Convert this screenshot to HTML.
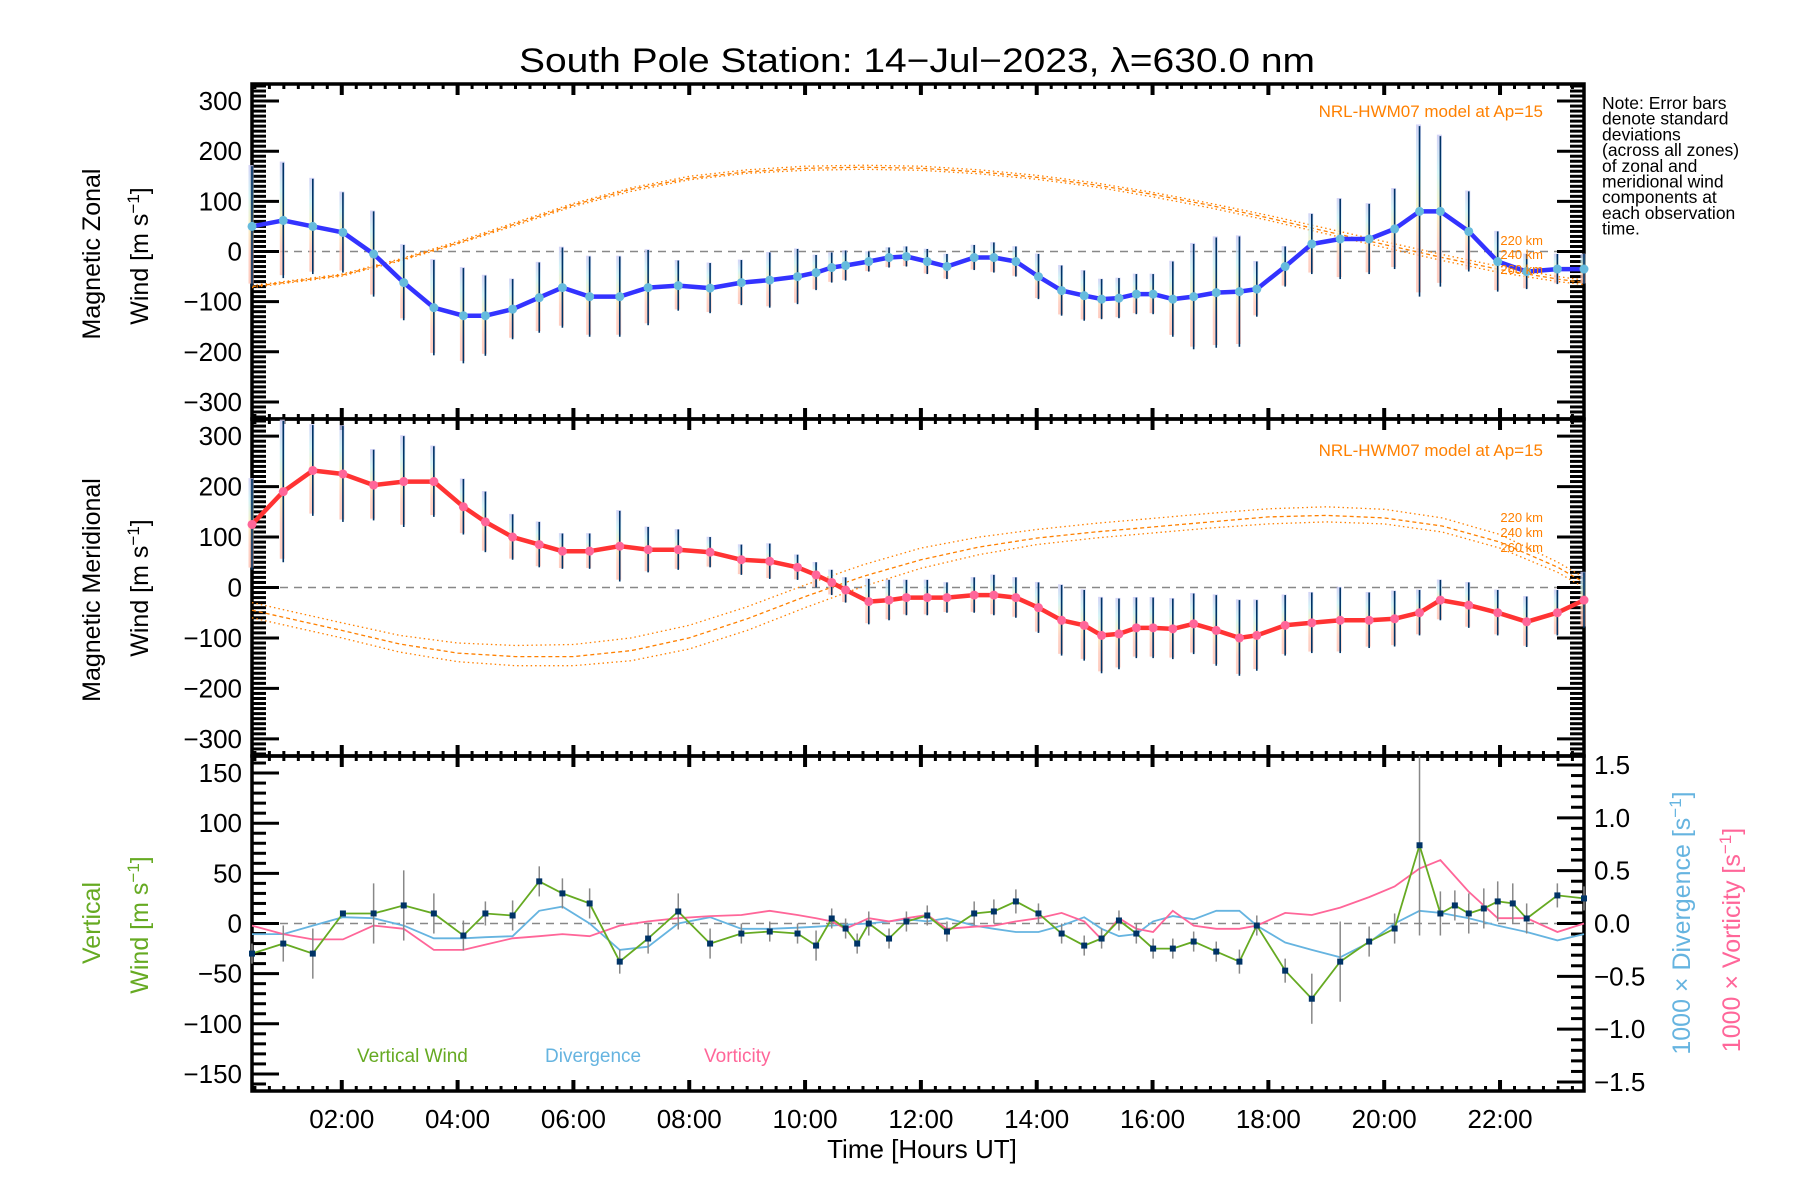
<!DOCTYPE html>
<html><head><meta charset="utf-8">
<style>
html,body{margin:0;padding:0;background:#fff;}
svg{display:block;font-family:"Liberation Sans",sans-serif;}
</style></head>
<body>
<svg id="chart" width="1800" height="1200" viewBox="0 0 1800 1200" xmlns="http://www.w3.org/2000/svg">
<defs>
<linearGradient id="pastel" x1="0" y1="0" x2="0" y2="1">
<stop offset="0" stop-color="#c8c8f4"/><stop offset="0.25" stop-color="#c8f0f4"/><stop offset="0.5" stop-color="#f8f0b8"/><stop offset="0.75" stop-color="#ffc8b8"/><stop offset="1" stop-color="#ffc0b0"/>
</linearGradient>
</defs>
<text x="917" y="72" font-size="34" text-anchor="middle" textLength="796" lengthAdjust="spacingAndGlyphs">South Pole Station: 14−Jul−2023, λ=630.0 nm</text>
<g id="note" font-size="17.5">
<text x="1602" y="109">Note: Error bars</text>
<text x="1602" y="124.7">denote standard</text>
<text x="1602" y="140.4">deviations</text>
<text x="1602" y="156.1">(across all zones)</text>
<text x="1602" y="171.8">of zonal and</text>
<text x="1602" y="187.5">meridional wind</text>
<text x="1602" y="203.2">components at</text>
<text x="1602" y="218.9">each observation</text>
<text x="1602" y="234.6">time.</text>
</g>
<g font-size="25">
<text transform="translate(100,254) rotate(-90)" text-anchor="middle">Magnetic Zonal</text>
<text transform="translate(148,256) rotate(-90)" text-anchor="middle">Wind [m s<tspan dy="-9" font-size="17">−1</tspan><tspan dy="9">]</tspan></text>
</g>
<g font-size="25">
<text transform="translate(100,590) rotate(-90)" text-anchor="middle">Magnetic Meridional</text>
<text transform="translate(148,588) rotate(-90)" text-anchor="middle">Wind [m s<tspan dy="-9" font-size="17">−1</tspan><tspan dy="9">]</tspan></text>
</g>
<g font-size="25" fill="#66aa22">
<text transform="translate(100,923) rotate(-90)" text-anchor="middle">Vertical</text>
<text transform="translate(148,925) rotate(-90)" text-anchor="middle">Wind [m s<tspan dy="-9" font-size="17">−1</tspan><tspan dy="9">]</tspan></text>
</g>
<g font-size="25" fill="#66b4e0">
<text transform="translate(1690,923) rotate(-90)" text-anchor="middle">1000 × Divergence [s<tspan dy="-9" font-size="17">−1</tspan><tspan dy="9">]</tspan></text>
</g>
<g font-size="25" fill="#ff6699">
<text transform="translate(1740,940) rotate(-90)" text-anchor="middle">1000 × Vorticity [s<tspan dy="-9" font-size="17">−1</tspan><tspan dy="9">]</tspan></text>
</g>
<text x="922" y="1158" font-size="26" text-anchor="middle">Time [Hours UT]</text>
<g font-size="19">
<text x="357" y="1062" fill="#66aa22">Vertical Wind</text>
<text x="545" y="1062" fill="#66b4e0">Divergence</text>
<text x="704" y="1062" fill="#ff6699">Vorticity</text>
</g>
</svg>
<script>
// ---- data ----
var obsTimes = [0.45,0.99,1.50,2.02,2.55,3.07,3.59,4.10,4.48,4.95,5.41,5.81,6.28,6.80,7.29,7.81,8.36,8.90,9.39,9.87,10.19,10.46,10.70,11.10,11.45,11.75,12.11,12.45,12.92,13.26,13.64,14.03,14.43,14.82,15.12,15.42,15.72,16.01,16.35,16.71,17.10,17.50,17.80,18.29,18.75,19.24,19.74,20.18,20.61,20.97,21.46,21.96,22.46,22.99,23.45];
var zonalWind = [50,62,50,38,-5,-62,-112,-128,-128,-115,-92,-72,-90,-90,-72,-68,-73,-62,-57,-50,-42,-32,-28,-20,-12,-10,-20,-30,-12,-12,-20,-50,-78,-88,-95,-93,-85,-85,-95,-90,-82,-80,-75,-30,15,25,25,45,80,80,40,-20,-40,-35,-35];
var zonalSigma = [120,115,95,80,85,75,95,95,80,60,70,80,80,80,75,50,50,45,55,55,35,30,30,20,20,20,25,25,25,30,30,45,50,50,40,40,40,40,75,105,110,110,55,40,60,80,70,80,170,150,80,60,35,30,30];
var meridWind = [125,190,232,225,203,210,210,160,130,100,85,72,72,82,75,75,70,55,52,40,25,10,-5,-28,-25,-20,-20,-20,-15,-15,-20,-40,-65,-75,-95,-92,-80,-80,-82,-72,-85,-100,-95,-75,-70,-65,-65,-62,-50,-25,-35,-50,-68,-50,-25];
var meridSigma = [90,140,90,95,70,90,70,55,60,45,45,35,35,70,45,40,30,30,35,25,25,25,25,45,40,35,35,30,35,40,40,50,70,70,75,70,60,60,60,60,70,75,70,60,60,65,55,55,45,40,45,45,50,45,55];
var divergence = [-0.1,-0.1,-0.02,0.06,0.05,-0.02,-0.14,-0.14,-0.13,-0.12,0.12,0.16,0.0,-0.25,-0.22,0.0,0.06,-0.05,-0.05,-0.04,-0.03,-0.02,-0.01,0.0,0.02,0.04,0.02,0.05,-0.02,-0.05,-0.08,-0.08,-0.02,0.06,-0.05,-0.12,-0.1,0.02,0.07,0.04,0.12,0.12,-0.02,-0.18,-0.25,-0.32,-0.18,0.0,0.12,0.1,0.05,-0.02,-0.08,-0.16,-0.1];
var vorticity = [-0.02,-0.1,-0.15,-0.15,-0.02,-0.05,-0.25,-0.25,-0.2,-0.14,-0.12,-0.1,-0.12,-0.02,0.02,0.05,0.07,0.08,0.12,0.08,0.05,0.02,-0.05,0.05,0.02,0.05,0.08,-0.05,-0.03,-0.02,0.02,0.05,0.1,0.02,-0.15,0.05,-0.05,-0.08,0.12,-0.02,-0.05,-0.05,-0.02,0.1,0.08,0.15,0.25,0.35,0.52,0.6,0.3,0.05,0.05,-0.08,0.0];
var vertTimes = [0.45,0.99,1.50,2.02,2.55,3.07,3.59,4.10,4.48,4.95,5.41,5.81,6.28,6.80,7.29,7.81,8.36,8.90,9.39,9.87,10.19,10.46,10.70,10.90,11.10,11.45,11.75,12.11,12.45,12.92,13.26,13.64,14.03,14.43,14.82,15.12,15.42,15.72,16.01,16.35,16.71,17.10,17.50,17.80,18.29,18.75,19.24,19.74,20.18,20.61,20.97,21.22,21.46,21.72,21.96,22.22,22.46,22.99,23.45];
var vertWind = [-30,-20,-30,10,10,18,10,-12,10,8,42,30,20,-38,-15,12,-20,-10,-8,-10,-22,5,-5,-20,0,-15,2,8,-8,10,12,22,10,-10,-22,-15,3,-10,-25,-25,-18,-28,-38,-2,-47,-75,-38,-18,-5,78,10,18,10,15,22,20,5,28,25];
var vertSigma = [10,18,25,0,30,35,20,15,12,15,15,15,15,12,15,18,15,10,10,10,15,10,10,10,12,10,10,10,10,12,12,12,10,10,10,10,10,10,10,10,10,10,12,10,12,25,40,15,15,90,22,15,20,20,20,20,15,12,12];
var modelTimes = [0.45,2,3,4,5,6,7,8,9,10,11,12,13,14,15,16,17,18,19,20,21,22,23,23.45];
var zonalModel220 = [-68,-45,-15,20,58,96,127,150,163,170,172,170,163,152,137,118,96,72,46,20,-6,-30,-50,-57];
var zonalModel240 = [-70,-47,-17,17,55,93,124,146,159,166,168,166,159,148,133,114,92,67,40,14,-12,-36,-55,-62];
var zonalModel260 = [-72,-49,-19,15,52,90,120,143,156,162,164,162,155,144,129,109,87,62,35,8,-18,-42,-60,-66];
var meridModel220 = [-30,-70,-95,-110,-115,-113,-100,-75,-38,5,45,78,100,115,127,137,147,156,160,155,138,105,50,20];
var meridModel240 = [-45,-85,-112,-130,-137,-137,-125,-100,-62,-18,22,55,80,98,110,120,130,140,143,138,122,90,40,10];
var meridModel260 = [-60,-100,-128,-147,-155,-155,-145,-122,-85,-40,2,38,65,85,98,108,118,126,130,126,110,78,30,0];
var xTickHours = [2,4,6,8,10,12,14,16,18,20,22];
var xTickLabels = ["02:00","04:00","06:00","08:00","10:00","12:00","14:00","16:00","18:00","20:00","22:00"];
var windTicks = [-300,-200,-100,0,100,200,300];
var vertTicks = [-150,-100,-50,0,50,100,150];
var rightTicks = [-1.5,-1.0,-0.5,0.0,0.5,1.0,1.5];

// ---- layout ----
var NS = "http://www.w3.org/2000/svg";
var svg = document.getElementById('chart');
var X0 = 252, X1 = 1584, XMIN = 0.45, XMAX = 23.45;
function xs(h){ return X0 + (h - XMIN) / (XMAX - XMIN) * (X1 - X0); }
var P1 = {top:84, bot:419, min:-334, max:334};
var P2 = {top:419, bot:756, min:-334, max:334};
var P3 = {top:756, bot:1091, min:-167, max:167};
var P3R = {top:756, bot:1091, min:-1.585, max:1.585};
function ys(p, v){ return p.bot - (v - p.min) / (p.max - p.min) * (p.bot - p.top); }
function mk(tag, attrs, parent){
  var e = document.createElementNS(NS, tag);
  for (var k in attrs) e.setAttribute(k, attrs[k]);
  (parent || svg).appendChild(e);
  return e;
}
function fmt(v, dec){
  var s = Math.abs(v).toFixed(dec);
  return (v < 0 ? "−" : "") + s;
}
function polyPts(p, ts, vs){
  var a = [];
  for (var i = 0; i < ts.length; i++) a.push(xs(ts[i]).toFixed(1) + "," + ys(p, vs[i]).toFixed(1));
  return a.join(" ");
}

function drawFrame(p, name, ticks, minorStep, dec, rightAxis){
  var g = mk('g', {});
  
  
  var z = mk('line', {x1:X0, x2:X1, y1:ys(p,0), y2:ys(p,0), stroke:'#888', 'stroke-width':1.5, 'stroke-dasharray':'8,6'}, g);
  
  
  var v;
  for (v = Math.ceil(p.min / minorStep) * minorStep; v <= p.max + 1e-9; v += minorStep){
    var y = ys(p, v);
    var isMaj = ticks.some(function(t){return Math.abs(t - v) < 1e-6;});
    var L = isMaj ? 27 : 14;
    mk('line', {x1:X0, x2:X0 + L, y1:y, y2:y, stroke:'#000', 'stroke-width':3}, g);
    if (!rightAxis) mk('line', {x1:X1, x2:X1 - L, y1:y, y2:y, stroke:'#000', 'stroke-width':3}, g);
  }
  for (var q = Math.ceil(XMIN * 4) / 4; q <= XMAX + 1e-9; q += 0.25){
    var x = xs(q);
    var maj = Math.abs(q / 2 - Math.round(q / 2)) < 1e-6;
    var L2 = maj ? 11 : 5;
    mk('line', {x1:x, x2:x, y1:p.top, y2:p.top + L2, stroke:'#000', 'stroke-width':maj ? 4 : 3}, g);
    mk('line', {x1:x, x2:x, y1:p.bot, y2:p.bot - L2, stroke:'#000', 'stroke-width':maj ? 4 : 3}, g);
  }
  for (var i = 0; i < ticks.length; i++){
    var t = mk('text', {x:X0 - 10, y:ys(p, ticks[i]) + 9, 'font-size':26, 'text-anchor':'end'}, g);
    
    
    t.textContent = fmt(ticks[i], dec);
  }
  mk('rect', {x:X0, y:p.top, width:X1 - X0, height:p.bot - p.top, fill:'none', stroke:'#000', 'stroke-width':3.5}, g);
}

function drawRightAxis(p){
  var g = mk('g', {});
  
  
  for (var k = -15; k <= 15; k++){
    var v = k / 10;
    var y = ys(p, v);
    var maj = (k % 5 === 0);
    mk('line', {x1:X1, x2:X1 - (maj ? 27 : 13), y1:y, y2:y, stroke:'#000', 'stroke-width':3}, g);
  }
  for (var i = 0; i < rightTicks.length; i++){
    var t = mk('text', {x:X1 + 10, y:ys(p, rightTicks[i]) + 9, 'font-size':26, 'text-anchor':'start'}, g);
    
    
    t.textContent = fmt(rightTicks[i], 1);
  }
}

function drawModel(p, name, arr, dash){
  var l = mk('polyline', {points:polyPts(p, modelTimes, arr), fill:'none', stroke:'#ff8000', 'stroke-width':1.3, 'stroke-dasharray':dash});
  
  
}

function drawWindPanel(p, name, vals, sig, lineColor, markColor){
  var g = mk('g', {});
  
  
  for (var i = 0; i < obsTimes.length; i++){
    var x = xs(obsTimes[i]);
    var yt = Math.max(p.top, ys(p, vals[i] + sig[i] * 1.02));
    var yb = Math.min(p.bot, ys(p, vals[i] - sig[i] * 0.95));
    var r = mk('rect', {x:x - 3.5, y:yt, width:5, height:Math.max(0, yb - yt), fill:'url(#pastel)', opacity:0.8}, g);
    
    
  }
  for (var i = 0; i < obsTimes.length; i++){
    var x = xs(obsTimes[i]);
    var e = mk('line', {x1:x, x2:x, y1:Math.max(p.top, ys(p, vals[i] + sig[i])), y2:Math.min(p.bot, ys(p, vals[i] - sig[i])), stroke:'#003366', 'stroke-width':1.6}, g);
    
    
  }
  var l = mk('polyline', {points:polyPts(p, obsTimes, vals), fill:'none', stroke:lineColor, 'stroke-width':4.5, 'stroke-linejoin':'round'}, g);
  
  
  for (var i = 0; i < obsTimes.length; i++){
    var c = mk('circle', {cx:xs(obsTimes[i]), cy:ys(p, vals[i]), r:4.5, fill:markColor}, g);
    
    
  }
}

drawFrame(P1, 'zonal', windTicks, 10, 0, false);
drawModel(P1, 'zonal-model-220km', zonalModel220, '1.5,3');
drawModel(P1, 'zonal-model-240km', zonalModel240, '4,3');
drawModel(P1, 'zonal-model-260km', zonalModel260, '1.5,3');
drawWindPanel(P1, 'zonal', zonalWind, zonalSigma, '#3333ff', '#66bbdd');
drawFrame(P2, 'meridional', windTicks, 10, 0, false);
drawModel(P2, 'meridional-model-220km', meridModel220, '1.5,3');
drawModel(P2, 'meridional-model-240km', meridModel240, '4,3');
drawModel(P2, 'meridional-model-260km', meridModel260, '1.5,3');
drawWindPanel(P2, 'meridional', meridWind, meridSigma, '#ff3333', '#ff6699');
drawFrame(P3, 'vertical', vertTicks, 10, 0, true);
drawRightAxis(P3R);
(function(){
  var g = mk('g', {});
  
  
  var d = mk('polyline', {points:polyPts(P3R, obsTimes, divergence), fill:'none', stroke:'#66b4e0', 'stroke-width':1.8}, g);
  
  
  var v = mk('polyline', {points:polyPts(P3R, obsTimes, vorticity), fill:'none', stroke:'#ff6699', 'stroke-width':1.8}, g);
  
  
  for (var i = 0; i < vertTimes.length; i++){
    if (vertSigma[i] <= 0) continue;
    var x = xs(vertTimes[i]);
    var e = mk('line', {x1:x, x2:x, y1:Math.max(P3.top, ys(P3, vertWind[i] + vertSigma[i])), y2:ys(P3, vertWind[i] - vertSigma[i]), stroke:'#888', 'stroke-width':1.5}, g);
    
    
  }
  var w = mk('polyline', {points:polyPts(P3, vertTimes, vertWind), fill:'none', stroke:'#66aa22', 'stroke-width':1.8}, g);
  
  
  for (var i = 0; i < vertTimes.length; i++){
    var m = mk('rect', {x:xs(vertTimes[i]) - 3, y:ys(P3, vertWind[i]) - 3, width:6, height:6, fill:'#003366'}, g);
    
    
  }
})();
for (var i = 0; i < xTickHours.length; i++){
  var t = mk('text', {x:xs(xTickHours[i]), y:1128, 'font-size':26, 'text-anchor':'middle'});
  
  
  t.textContent = xTickLabels[i];
}
function ann(txt, x, y, fs, nm){
  var t = mk('text', {x:x, y:y, 'font-size':fs, 'text-anchor':'end', fill:'#ff8000'});
  
  
  t.textContent = txt;
}
ann('NRL-HWM07 model at Ap=15', 1543, 117, 17, 'zonal-model-label');
ann('220 km', 1543, 245, 13, 'zonal-model-220-label');
ann('240 km', 1543, 259, 13, 'zonal-model-240-label');
ann('260 km', 1543, 274, 13, 'zonal-model-260-label');
ann('NRL-HWM07 model at Ap=15', 1543, 456, 17, 'meridional-model-label');
ann('220 km', 1543, 522, 13, 'meridional-model-220-label');
ann('240 km', 1543, 537, 13, 'meridional-model-240-label');
ann('260 km', 1543, 552, 13, 'meridional-model-260-label');
</script>
</body></html>
